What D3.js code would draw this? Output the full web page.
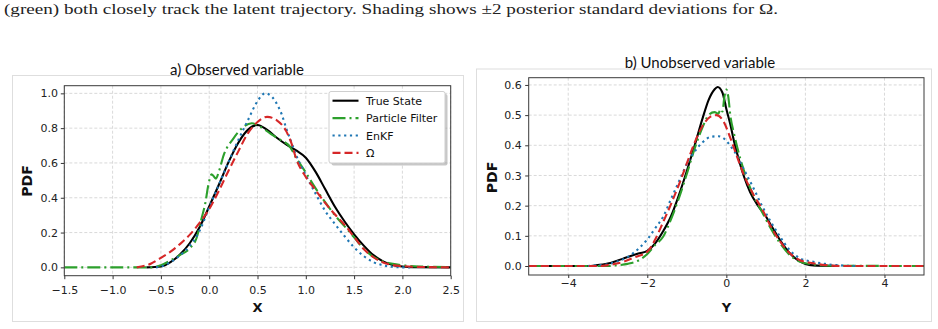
<!DOCTYPE html>
<html>
<head>
<meta charset="utf-8">
<script src="https://cdn.jsdelivr.net/npm/d3@7"></script>
<style>
  body { margin: 0; background: #fff; }
  svg { display: block; }
  .tick text { font-family: "DejaVu Sans", sans-serif; font-size: 11px; fill: #222; }
  .tick line { stroke: #333; }
  .grid line { stroke: #cfcfcf; stroke-dasharray: 3,2; stroke-width: 0.8; }
</style>
</head>
<body>
<svg id="chart" width="938" height="329"></svg>
<script>
// panel a) observed variable X  -- [x, pdf]
const obsTrue = [[-0.65,0],[-0.5,0.005],[-0.4,0.03],[-0.3,0.075],[-0.2,0.14],[-0.1,0.23],[0.0,0.35],[0.1,0.475],[0.2,0.605],[0.3,0.715],[0.4,0.79],[0.5,0.818],[0.6,0.79],[0.7,0.745],[0.8,0.705],[0.9,0.672],[1.0,0.63],[1.1,0.55],[1.2,0.45],[1.3,0.35],[1.4,0.265],[1.5,0.19],[1.6,0.125],[1.7,0.07],[1.8,0.034],[1.9,0.013],[2.0,0.005],[2.1,0.001],[2.5,0]];
const obsPF = [[-1.5,0],[-0.6,0],[-0.5,0.012],[-0.4,0.04],[-0.3,0.072],[-0.2,0.11],[-0.13,0.17],[-0.08,0.28],[-0.04,0.37],[-0.01,0.47],[0.025,0.535],[0.07,0.51],[0.1,0.55],[0.15,0.645],[0.25,0.74],[0.35,0.805],[0.44,0.828],[0.53,0.808],[0.63,0.77],[0.73,0.735],[0.84,0.69],[0.9,0.63],[1.0,0.545],[1.1,0.455],[1.2,0.375],[1.3,0.3],[1.4,0.237],[1.5,0.172],[1.6,0.107],[1.7,0.06],[1.8,0.034],[1.9,0.02],[2.0,0.012],[2.2,0.005],[2.5,0.002]];
const obsEnKF = [[-0.55,0],[-0.5,0.005],[-0.4,0.03],[-0.3,0.07],[-0.2,0.125],[-0.1,0.21],[0.0,0.345],[0.1,0.475],[0.2,0.605],[0.3,0.73],[0.4,0.845],[0.5,0.955],[0.58,1.0],[0.65,0.98],[0.7,0.94],[0.75,0.88],[0.8,0.795],[0.85,0.72],[0.9,0.645],[1.0,0.53],[1.1,0.425],[1.2,0.325],[1.3,0.25],[1.4,0.18],[1.5,0.115],[1.6,0.065],[1.7,0.03],[1.8,0.012],[1.9,0.003],[2.0,0],[2.1,0]];
const obsOmega = [[-0.75,0],[-0.6,0.022],[-0.5,0.055],[-0.4,0.09],[-0.3,0.135],[-0.2,0.188],[-0.1,0.255],[0.0,0.335],[0.1,0.44],[0.2,0.555],[0.3,0.665],[0.4,0.77],[0.5,0.835],[0.6,0.865],[0.7,0.845],[0.8,0.78],[0.85,0.715],[0.9,0.625],[1.0,0.52],[1.1,0.445],[1.2,0.37],[1.3,0.305],[1.4,0.245],[1.5,0.175],[1.6,0.105],[1.7,0.058],[1.8,0.028],[1.9,0.013],[2.0,0.007],[2.2,0.002],[2.5,0]];

// panel b) unobserved variable Y
const unobsTrue = [[-4.5,0],[-3.5,0],[-3.3,0.002],[-3.0,0.008],[-2.8,0.016],[-2.6,0.025],[-2.4,0.034],[-2.2,0.042],[-2.0,0.05],[-1.8,0.075],[-1.6,0.115],[-1.4,0.165],[-1.2,0.235],[-1.0,0.315],[-0.8,0.4],[-0.6,0.49],[-0.45,0.55],[-0.3,0.585],[-0.22,0.593],[-0.1,0.575],[0.0,0.52],[0.1,0.47],[0.2,0.41],[0.3,0.36],[0.45,0.295],[0.6,0.245],[0.8,0.2],[1.0,0.165],[1.1,0.142],[1.2,0.12],[1.4,0.078],[1.6,0.043],[1.8,0.02],[2.0,0.007],[2.2,0.002],[2.8,0]];
const unobsPF = [[-5,0],[-3.0,0],[-2.8,0.002],[-2.5,0.007],[-2.2,0.02],[-2.0,0.04],[-1.8,0.07],[-1.6,0.097],[-1.4,0.155],[-1.2,0.225],[-1.0,0.305],[-0.8,0.39],[-0.6,0.46],[-0.45,0.5],[-0.3,0.51],[-0.2,0.505],[-0.15,0.52],[-0.1,0.512],[-0.05,0.56],[0.0,0.585],[0.05,0.56],[0.1,0.5],[0.2,0.435],[0.35,0.357],[0.5,0.295],[0.75,0.215],[0.9,0.18],[1.1,0.13],[1.35,0.077],[1.6,0.037],[1.85,0.015],[2.2,0.005],[2.6,0.001],[5,0]];
const unobsEnKF = [[-3.5,0],[-3.3,0.002],[-3.0,0.006],[-2.8,0.013],[-2.5,0.03],[-2.2,0.06],[-2.0,0.088],[-1.8,0.125],[-1.6,0.163],[-1.4,0.222],[-1.2,0.28],[-1.0,0.338],[-0.8,0.38],[-0.6,0.41],[-0.4,0.428],[-0.2,0.43],[0.0,0.415],[0.1,0.398],[0.26,0.368],[0.43,0.324],[0.69,0.257],[0.9,0.2],[1.1,0.152],[1.36,0.097],[1.6,0.053],[1.87,0.025],[2.2,0.014],[2.5,0.007],[2.9,0.002],[3.3,0]];
const unobsOmega = [[-5,0],[-3.2,0],[-3.0,0.003],[-2.6,0.014],[-2.3,0.03],[-2.0,0.047],[-1.8,0.088],[-1.6,0.145],[-1.4,0.205],[-1.2,0.27],[-1.0,0.34],[-0.8,0.41],[-0.6,0.465],[-0.4,0.495],[-0.25,0.5],[-0.1,0.485],[0.1,0.425],[0.25,0.37],[0.45,0.3],[0.7,0.233],[0.9,0.19],[1.1,0.137],[1.35,0.083],[1.6,0.043],[1.85,0.02],[2.2,0.009],[2.5,0.003],[3.0,0],[5,0]];

const obsXTicks = [-1.5, -1.0, -0.5, 0.0, 0.5, 1.0, 1.5, 2.0, 2.5];
const obsYTicks = [0.0, 0.2, 0.4, 0.6, 0.8, 1.0];
const unobsXTicks = [-4, -2, 0, 2, 4];
const unobsYTicks = [0.0, 0.1, 0.2, 0.3, 0.4, 0.5, 0.6];

const legendLabels = ["True State", "Particle Filter", "EnKF", "Ω"];

const styles = [
  { color: "#000000", dash: null },
  { color: "#2ca02c", dash: "13,4,2,4" },
  { color: "#1f77b4", dash: "2.2,3.6" },
  { color: "#d62728", dash: "8,4" }
];

let svg = d3.select("#chart");

svg.append("rect").attr("width", 938).attr("height", 329).attr("fill", "#fff");

// caption line from the paper
svg.append("text")
  .attr("x", 4)
  .attr("y", 14)
  .attr("textLength", 774)
  .attr("lengthAdjust", "spacingAndGlyphs")
  .style("font-family", "'Liberation Serif', serif")
  .style("font-size", "14.5px")
  .attr("fill", "#222")
  .text("(green) both closely track the latent trajectory. Shading shows ±2 posterior standard deviations for Ω.");

function drawPanel(cfg) {
  // light frame round each sub-figure
  svg.append("rect")
    .attr("x", cfg.frame[0]).attr("y", cfg.frame[1])
    .attr("width", cfg.frame[2]).attr("height", cfg.frame[3])
    .attr("fill", "none").attr("stroke", "#dedede").attr("stroke-width", 1);

  let x = d3.scaleLinear().domain(cfg.xDomain).range([cfg.left, cfg.right]);
  let y = d3.scaleLinear().domain(cfg.yDomain).range([cfg.bottom, cfg.top]);

  let g = svg.append("g");

  // grid
  g.append("g").classed("grid", true)
    .selectAll("line").data(cfg.xTicks).enter().append("line")
    .attr("x1", d => x(d)).attr("x2", d => x(d))
    .attr("y1", cfg.top).attr("y2", cfg.bottom);
  g.append("g").classed("grid", true)
    .selectAll("line").data(cfg.yTicks).enter().append("line")
    .attr("x1", cfg.left).attr("x2", cfg.right)
    .attr("y1", d => y(d)).attr("y2", d => y(d));

  let clipId = "clip-" + cfg.name;
  svg.append("clipPath").attr("id", clipId)
    .append("rect")
    .attr("x", cfg.left).attr("y", cfg.top)
    .attr("width", cfg.right - cfg.left).attr("height", cfg.bottom - cfg.top);

  let line = d3.line()
    .x(d => x(d[0]))
    .y(d => y(d[1]))
    .curve(d3.curveMonotoneX);

  let lines = g.append("g").attr("clip-path", `url(#${clipId})`);
  cfg.series.forEach((s, i) => {
    lines.append("path")
      .datum(s)
      .attr("d", line)
      .attr("fill", "none")
      .attr("stroke", styles[i].color)
      .attr("stroke-width", 2.1)
      .attr("stroke-dasharray", styles[i].dash);
  });

  // axes
  let xAxis = g.append("g")
    .attr("transform", `translate(0,${cfg.bottom})`)
    .call(d3.axisBottom(x).tickValues(cfg.xTicks).tickFormat(cfg.xFormat).tickSize(cfg.xTickSize).tickSizeOuter(0));
  xAxis.selectAll(".tick text").attr("y", cfg.xLabelY).attr("dy", 0);
  xAxis.select(".domain").remove();

  let yAxis = g.append("g")
    .attr("transform", `translate(${cfg.left},0)`)
    .call(d3.axisLeft(y).tickValues(cfg.yTicks).tickFormat(d3.format(".1f")).tickSize(3.5).tickPadding(cfg.yPad).tickSizeOuter(0));
  yAxis.select(".domain").remove();

  g.append("rect")
    .attr("x", cfg.left).attr("y", cfg.top)
    .attr("width", cfg.right - cfg.left).attr("height", cfg.bottom - cfg.top)
    .attr("fill", "none").attr("stroke", "#3a3a3a").attr("stroke-width", 1);

  // titles and axis labels
  svg.append("text")
    .attr("x", cfg.titleX).attr("y", cfg.titleY)
    .attr("text-anchor", "middle")
    .style("font-family", "Lato, sans-serif")
    .style("font-size", "15px")
    .attr("fill", "#111")
    .text(cfg.title);

  svg.append("text")
    .attr("transform", `translate(${cfg.yLabelX},${cfg.yLabelY}) rotate(-90)`)
    .attr("text-anchor", "middle")
    .style("font-family", "'DejaVu Sans', sans-serif")
    .style("font-size", "14px")
    .style("font-weight", "bold")
    .attr("fill", "#111")
    .text("PDF");

  svg.append("text")
    .attr("x", (cfg.left + cfg.right) / 2).attr("y", 311.5)
    .attr("text-anchor", "middle")
    .style("font-family", "'DejaVu Sans', sans-serif")
    .style("font-size", "13px")
    .style("font-weight", "bold")
    .attr("fill", "#111")
    .text(cfg.xLabel);

  return { x, y };
}

drawPanel({
  name: "obs",
  frame: [12.5, 75.5, 451, 246],
  left: 64.3, right: 450.7, top: 85.7, bottom: 275.7,
  xDomain: [-1.5, 2.5], yDomain: [-0.048, 1.044],
  xTicks: obsXTicks, yTicks: obsYTicks,
  xFormat: d3.format(".1f"), xLabelY: 18, xTickSize: 3.5, yPad: 2.8,
  series: [obsTrue, obsPF, obsEnKF, obsOmega],
  title: "a) Observed variable", titleX: 237, titleY: 75,
  yLabelX: 32, yLabelY: 181,
  xLabel: "X"
});

drawPanel({
  name: "unobs",
  frame: [476.5, 69, 455, 252.5],
  left: 528.7, right: 924, top: 77.7, bottom: 275,
  xDomain: [-5, 5], yDomain: [-0.0298, 0.624],
  xTicks: unobsXTicks, yTicks: unobsYTicks,
  xFormat: d3.format("d"), xLabelY: 12, xTickSize: 3, yPad: 3.5,
  series: [unobsTrue, unobsPF, unobsEnKF, unobsOmega],
  title: "b) Unobserved variable", titleX: 700, titleY: 68,
  yLabelX: 496.5, yLabelY: 177.5,
  xLabel: "Y"
});

// legend (panel a only)
let legend = svg.append("g").attr("transform", "translate(329,91.5)");
legend.append("rect")
  .attr("x", 2.5).attr("y", 2.5).attr("width", 116).attr("height", 71.5)
  .attr("rx", 2).attr("fill", "#9a9a9a").attr("opacity", 0.55);
legend.append("rect")
  .attr("width", 116).attr("height", 71.5)
  .attr("rx", 2).attr("fill", "#fff").attr("stroke", "#cfcfcf");

legendLabels.forEach((label, i) => {
  let ly = 9.2 + i * 17.4;
  legend.append("line")
    .attr("x1", 3.5).attr("x2", 29.5)
    .attr("y1", ly).attr("y2", ly)
    .attr("stroke", styles[i].color)
    .attr("stroke-width", 2.1)
    .attr("stroke-dasharray", styles[i].dash);
  legend.append("text")
    .attr("x", 37).attr("y", ly + 4)
    .style("font-family", "'DejaVu Sans', sans-serif")
    .style("font-size", "11px")
    .attr("fill", "#111")
    .text(label);
});
</script>
</body>
</html>
